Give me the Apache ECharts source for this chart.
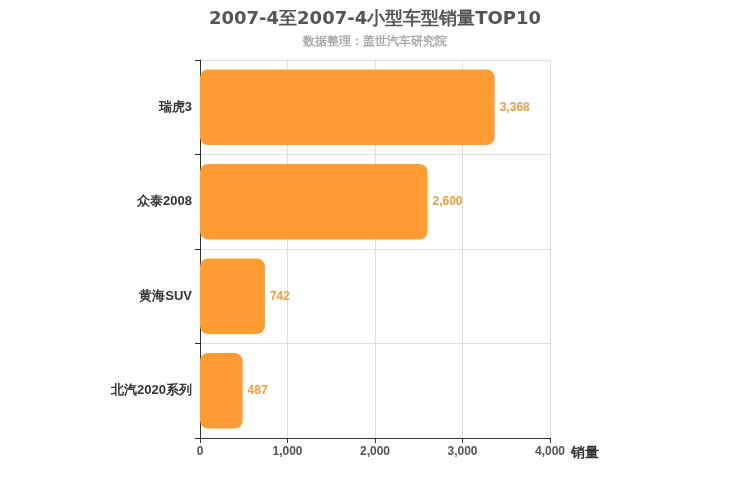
<!DOCTYPE html>
<html><head><meta charset="utf-8">
<script src="https://cdn.jsdelivr.net/npm/echarts@6/dist/echarts.min.js"></script>
<style>body{margin:0}#c{width:750px;height:500px}</style></head>
<body><div id="c"></div>
<script>
const categories = ['瑞虎3', '众泰2008', '黄海SUV', '北汽2020系列'];
const sales = [3368, 2600, 742, 487];
const chart = echarts.init(document.getElementById('c'));
chart.setOption({
  title: {
    text: '2007-4至2007-4小型车型销量TOP10', subtext: '数据整理：盖世汽车研究院',
    left: 'center', top: 5,
    textStyle: {fontSize: 18, fontWeight: 'bold', color: '#555', fontFamily: 'DejaVu Sans'},
    subtextStyle: {fontSize: 12, color: '#aaa', fontWeight: 'bold'}, itemGap: 8
  },
  grid: {left: 200, right: 200, top: 60, bottom: 62},
  xAxis: {
    type: 'value', min: 0, max: 4000, interval: 1000,
    name: '销量', nameLocation: 'end', nameGap: 15,
    nameTextStyle: {fontSize: 14, fontWeight: 'bold', color: '#333', verticalAlign: 'top', padding: [8,0,0,0]},
    axisLine: {show: true, lineStyle: {color: '#333'}},
    axisTick: {show: true},
    axisLabel: {color: '#555', fontWeight: 'bold'},
    splitLine: {lineStyle: {color: '#ddd'}}
  },
  yAxis: {
    type: 'category', data: categories, inverse: true,
    axisLine: {show: true, lineStyle: {color: '#333'}},
    axisTick: {show: true},
    axisLabel: {color: '#333', fontSize: 13, fontWeight: 'bold'},
    splitLine: {show: true, lineStyle: {color: '#ddd'}}
  },
  series: [{
    type: 'bar', data: sales, barWidth: '80%',
    itemStyle: {color: '#ff9c33', borderRadius: 8},
    label: {show: true, position: 'right', color: '#e8a040', fontWeight: 'bold', fontSize: 12,
      formatter: p => p.value.toLocaleString('en-US')}
  }]
});
</script></body></html>
